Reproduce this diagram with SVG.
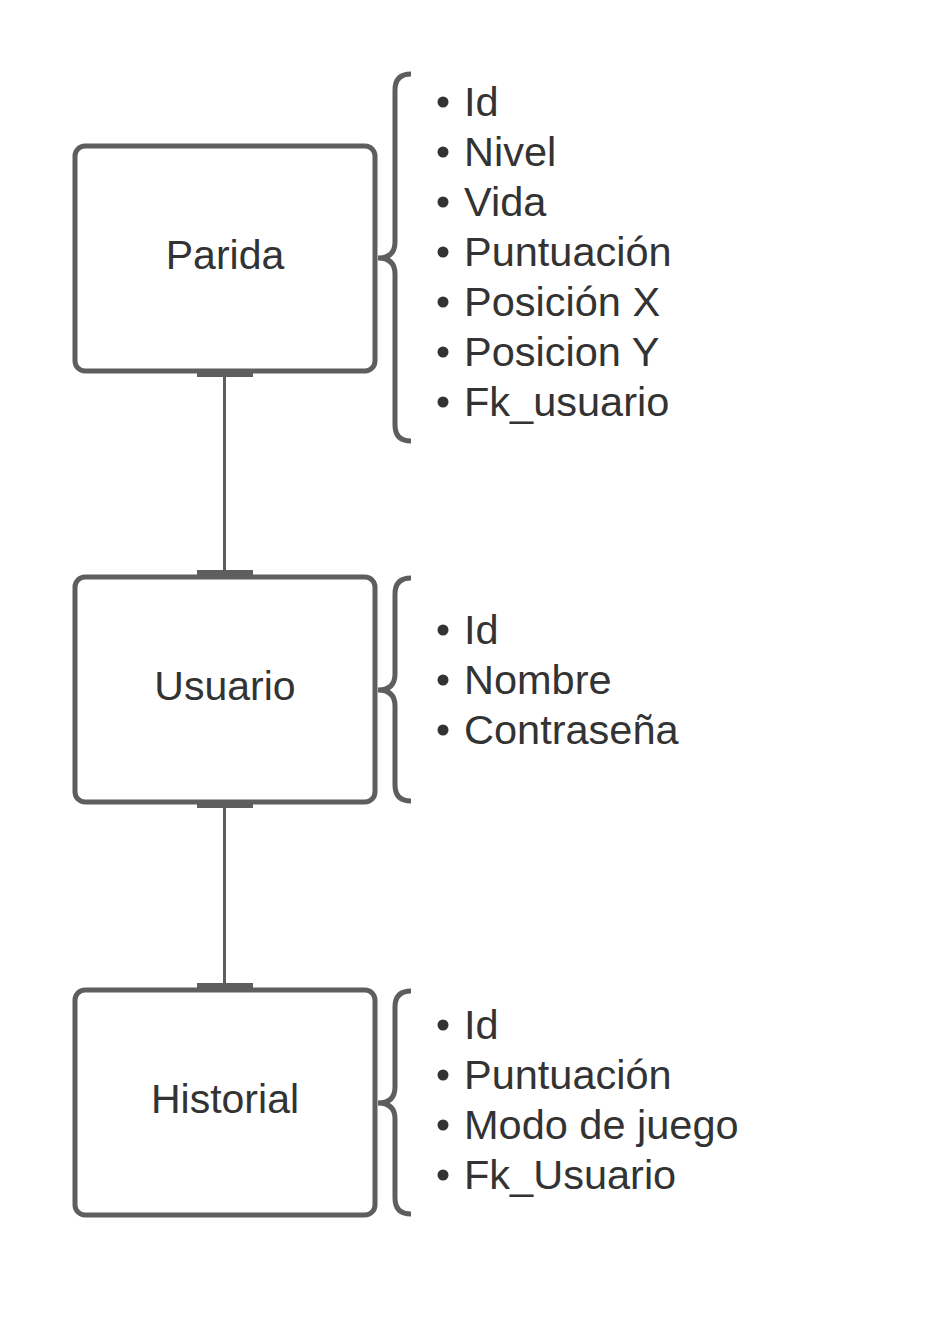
<svg xmlns="http://www.w3.org/2000/svg" width="938" height="1328" viewBox="0 0 938 1328">
<style>
.box{fill:#fff;stroke:#5e5e5e;stroke-width:5}
.brace{fill:none;stroke:#5e5e5e;stroke-width:5}
.conn{stroke:#5e5e5e;stroke-width:3;fill:none}
.tick{fill:#5e5e5e}
.title{font-family:"Liberation Sans",Arial,sans-serif;font-size:41px;fill:#333;text-anchor:middle}
.item{font-family:"Liberation Sans",Arial,sans-serif;font-size:41.5px;fill:#333}
.dot{fill:#333}
</style>
<rect width="938" height="1328" fill="#fff"/>
<g id="connectors">
<line class="conn" x1="224.5" y1="375" x2="224.5" y2="573"/>
<rect class="tick" x="197" y="373" width="56" height="4"/>
<rect class="tick" x="197" y="570" width="56" height="5"/>
<line class="conn" x1="224.5" y1="806" x2="224.5" y2="986"/>
<rect class="tick" x="197" y="803" width="56" height="5"/>
<rect class="tick" x="197" y="983" width="56" height="5"/>
</g>
<g id="parida">
<rect class="box" x="75" y="146" width="300" height="225" rx="10"/>
<text class="title" x="225" y="269">Parida</text>
<path class="brace" d="M411 74 Q395 74 395 90 L395 242 Q395 258 378 258 Q395 258 395 274 L395 425 Q395 441 411 441"/>
<g>
<circle class="dot" cx="443" cy="102" r="5.5"/><text class="item" x="464" y="116">Id</text>
<circle class="dot" cx="443" cy="152" r="5.5"/><text class="item" x="464" y="166">Nivel</text>
<circle class="dot" cx="443" cy="202" r="5.5"/><text class="item" x="464" y="216">Vida</text>
<circle class="dot" cx="443" cy="252" r="5.5"/><text class="item" x="464" y="266">Puntuación</text>
<circle class="dot" cx="443" cy="302" r="5.5"/><text class="item" x="464" y="316">Posición X</text>
<circle class="dot" cx="443" cy="352" r="5.5"/><text class="item" x="464" y="366">Posicion Y</text>
<circle class="dot" cx="443" cy="402" r="5.5"/><text class="item" x="464" y="416">Fk_usuario</text>
</g>
</g>
<g id="usuario">
<rect class="box" x="75" y="577" width="300" height="225" rx="10"/>
<text class="title" x="225" y="700">Usuario</text>
<path class="brace" d="M411 578 Q395 578 395 594 L395 674 Q395 690 378 690 Q395 690 395 706 L395 785 Q395 801 411 801"/>
<circle class="dot" cx="443" cy="630" r="5.5"/><text class="item" x="464" y="644">Id</text>
<circle class="dot" cx="443" cy="680" r="5.5"/><text class="item" x="464" y="694">Nombre</text>
<circle class="dot" cx="443" cy="730" r="5.5"/><text class="item" x="464" y="744">Contraseña</text>
</g>
<g id="historial">
<rect class="box" x="75" y="990" width="300" height="225" rx="10"/>
<text class="title" x="225" y="1113">Historial</text>
<path class="brace" d="M411 991 Q395 991 395 1007 L395 1087 Q395 1103 378 1103 Q395 1103 395 1119 L395 1198 Q395 1214 411 1214"/>
<circle class="dot" cx="443" cy="1025" r="5.5"/><text class="item" x="464" y="1039">Id</text>
<circle class="dot" cx="443" cy="1075" r="5.5"/><text class="item" x="464" y="1089">Puntuación</text>
<circle class="dot" cx="443" cy="1125" r="5.5"/><text class="item" x="464" y="1139">Modo de juego</text>
<circle class="dot" cx="443" cy="1175" r="5.5"/><text class="item" x="464" y="1189">Fk_Usuario</text>
</g>
</svg>
